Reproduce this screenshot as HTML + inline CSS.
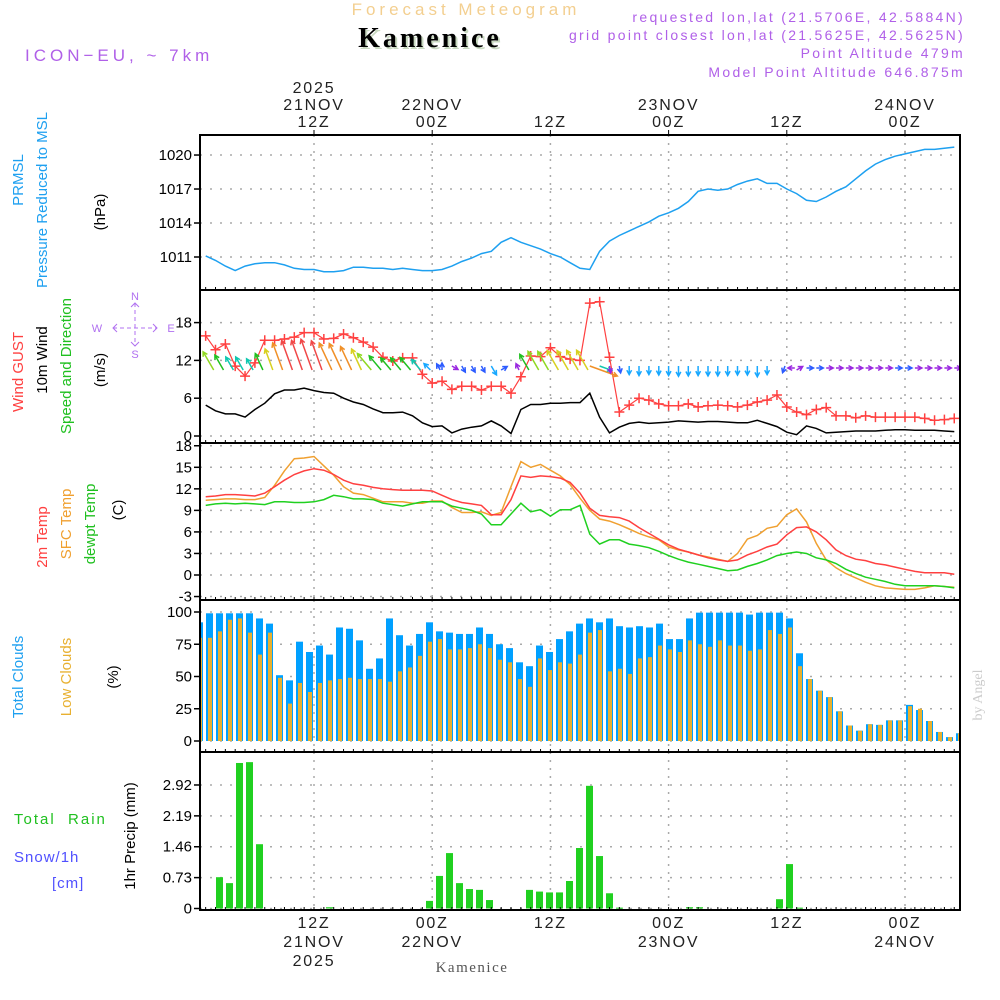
<!DOCTYPE html>
<html><head><meta charset="utf-8"><style>
body{margin:0;background:#fff;}
svg{display:block;font-family:"Liberation Sans",sans-serif;}
</style></head><body>
<svg id="chart" width="1000" height="1000" viewBox="0 0 1000 1000">
<g id="hdr">
<text x="466" y="15" text-anchor="middle" font-size="17" letter-spacing="4" fill="#f3cf90">Forecast Meteogram</text>
<text x="432" y="49" text-anchor="middle" font-family="Liberation Serif,serif" font-weight="bold" font-size="28" letter-spacing="3" fill="#c8d8c0">Kamenice</text>
<text x="430" y="47" text-anchor="middle" font-family="Liberation Serif,serif" font-weight="bold" font-size="28" letter-spacing="3" fill="#000">Kamenice</text>
<text x="25" y="61" font-size="17" letter-spacing="4" fill="#b060e8">ICON−EU, ~ 7km</text>
<g font-size="14" letter-spacing="2.3" fill="#b060e8" text-anchor="end">
<text x="965" y="22">requested lon,lat (21.5706E, 42.5884N)</text>
<text x="965" y="40">grid point closest lon,lat (21.5625E, 42.5625N)</text>
<text x="965" y="58">Point Altitude 479m</text>
<text x="965" y="77">Model Point Altitude 646.875m</text>
</g>
<text x="472" y="972" text-anchor="middle" font-family="Liberation Serif,serif" font-size="15" letter-spacing="1.5" fill="#555">Kamenice</text>
<text transform="translate(982,695) rotate(-90)" text-anchor="middle" font-family="Liberation Serif,serif" font-size="14" fill="#ccc">by Angel</text>
</g>
<g id="leftlabels" font-size="15">
<text transform="translate(23,180) rotate(-90)" text-anchor="middle" fill="#1ea0f0">PRMSL</text>
<text transform="translate(47,200) rotate(-90)" text-anchor="middle" fill="#1ea0f0">Pressure Reduced to MSL</text>
<text transform="translate(105,212) rotate(-90)" text-anchor="middle" fill="#000">(hPa)</text>
<text transform="translate(23,372) rotate(-90)" text-anchor="middle" fill="#ff4040">Wind GUST</text>
<text transform="translate(47,360) rotate(-90)" text-anchor="middle" fill="#000">10m Wind</text>
<text transform="translate(71,366) rotate(-90)" text-anchor="middle" fill="#20c020">Speed and Direction</text>
<text transform="translate(105,370) rotate(-90)" text-anchor="middle" fill="#000">(m/s)</text>
<text transform="translate(47,537) rotate(-90)" text-anchor="middle" fill="#ff4040">2m Temp</text>
<text transform="translate(71,524) rotate(-90)" text-anchor="middle" fill="#f0a030">SFC Temp</text>
<text transform="translate(95,524) rotate(-90)" text-anchor="middle" fill="#20c020">dewpt Temp</text>
<text transform="translate(123,510) rotate(-90)" text-anchor="middle" fill="#000">(C)</text>
<text transform="translate(23,677) rotate(-90)" text-anchor="middle" fill="#1ea0f0">Total Clouds</text>
<text transform="translate(71,677) rotate(-90)" text-anchor="middle" fill="#e8b030">Low Clouds</text>
<text transform="translate(118,677) rotate(-90)" text-anchor="middle" fill="#000">(%)</text>
<text x="14" y="824" fill="#20c020" letter-spacing="2" xml:space="preserve">Total  Rain</text>
<text x="14" y="862" fill="#5050ff" letter-spacing="1">Snow/1h</text>
<text x="52" y="888" fill="#5050ff" letter-spacing="1">[cm]</text>
<text transform="translate(135,836) rotate(-90)" text-anchor="middle" fill="#000">1hr Precip (mm)</text>
</g>
<g id="compass" fill="#b070f0" stroke="#b070f0" font-size="11">
<text x="135" y="300" text-anchor="middle" stroke="none">N</text>
<text x="97" y="332" text-anchor="middle" stroke="none">W</text>
<text x="171" y="332" text-anchor="middle" stroke="none">E</text>
<text x="135" y="358" text-anchor="middle" stroke="none">S</text>
<line x1="135" y1="303" x2="135" y2="346" stroke-dasharray="4,3"/>
<line x1="113" y1="328" x2="157" y2="328" stroke-dasharray="4,3"/>
<path d="M117 324 L113 328 L117 332 M153 324 L157 328 L153 332 M131 307 L135 303 L139 307 M131 342 L135 346 L139 342" fill="none"/>
</g>
<g id="grid"></g>
<g id="marks"></g>
<g id="frames"></g>
<g id="axes"></g>
</svg>
<script>
// ---- data (hourly, h = 1..77) ----
const pressure = [1011.1,1010.7,1010.2,1009.8,1010.2,1010.4,1010.5,1010.5,1010.3,1010.0,1009.9,1009.9,1009.7,1009.7,1009.8,1010.1,1010.1,1010.0,1010.0,1009.9,1010.0,1009.9,1009.8,1009.8,1009.9,1010.2,1010.6,1010.9,1011.3,1011.5,1012.3,1012.7,1012.3,1012.0,1011.7,1011.3,1011.0,1010.5,1010.0,1009.9,1011.5,1012.4,1012.9,1013.3,1013.7,1014.1,1014.6,1014.9,1015.3,1015.9,1016.8,1017.0,1016.9,1017.0,1017.4,1017.7,1017.9,1017.5,1017.5,1017.0,1016.6,1016.0,1015.9,1016.3,1016.8,1017.2,1017.9,1018.6,1019.2,1019.6,1019.9,1020.1,1020.3,1020.5,1020.5,1020.6,1020.7];
const gust = [15.9,13.7,14.6,11.1,9.5,11.6,15.2,15.2,15.4,15.7,16.4,16.4,15.4,15.5,16.2,15.6,14.9,14.1,12.5,11.9,12.4,12.4,9.8,8.4,8.7,7.4,7.9,7.9,7.3,7.9,7.9,6.8,9.4,12.7,12.6,14.0,12.6,12.2,12.0,21.1,21.3,12.5,3.8,4.9,6.0,5.7,5.1,4.8,4.8,5.1,4.6,4.8,4.9,4.8,4.6,4.9,5.4,5.7,6.5,4.6,3.8,3.4,4.2,4.5,3.2,3.2,2.9,3.2,3.0,3.0,3.0,3.0,3.0,2.8,2.5,2.6,2.8];
const wind = [4.9,4.0,3.5,3.5,3.0,4.2,5.2,6.7,7.3,7.3,7.6,7.2,6.9,6.8,6.0,5.4,5.0,4.3,3.7,3.7,3.8,3.2,2.1,1.5,1.6,0.5,1.1,1.4,1.6,2.4,1.6,0.4,4.2,5.0,5.0,5.2,5.2,5.3,5.3,6.8,3.0,0.5,1.4,2.0,2.2,2.0,2.1,2.2,2.4,2.3,2.2,2.3,2.3,2.2,2.1,2.1,2.5,2.0,1.5,0.6,0.2,1.6,1.2,0.5,0.6,0.7,0.8,0.8,0.8,0.9,1.0,1.0,0.9,0.9,0.9,0.8,0.7];
const windDir = [330,330,330,330,330,335,340,340,340,340,340,340,335,335,335,335,320,320,320,320,320,320,315,330,0,120,150,150,150,150,60,335,330,330,330,330,330,330,330,110,110,170,170,180,180,180,180,180,180,180,180,180,180,180,180,180,180,180,200,270,60,90,90,90,90,90,90,90,90,90,90,90,90,90,90,90,90];
const temp2m = [10.9,11.0,11.2,11.2,11.1,11.0,11.4,12.3,13.2,14.0,14.5,14.8,14.6,14.0,13.2,12.7,12.5,12.2,12.0,11.9,11.8,11.8,11.8,11.7,11.1,10.5,10.1,9.9,9.7,8.4,8.4,10.5,13.8,13.6,13.8,13.7,13.5,12.9,11.4,9.3,8.3,8.1,8.0,7.5,6.6,5.8,5.0,4.2,3.6,3.2,2.8,2.4,2.1,1.9,2.1,2.8,3.3,3.9,4.3,5.6,6.6,6.7,6.0,4.9,3.5,2.7,2.2,2.0,1.6,1.4,1.1,0.8,0.5,0.3,0.3,0.3,0.1];
const tempSfc = [10.4,10.5,10.6,10.6,10.5,10.5,10.8,12.5,14.5,16.2,16.3,16.5,15.2,13.9,12.3,11.4,11.2,10.7,10.2,10.2,10.2,10.0,10.0,10.3,10.3,9.4,8.7,8.7,8.8,8.3,8.7,12.3,15.8,15.0,15.4,14.6,13.8,12.6,10.7,9.0,7.8,7.5,7.0,6.4,5.8,5.3,4.9,3.9,3.5,3.2,2.8,2.5,2.2,1.9,3.0,5.0,5.5,6.5,6.8,8.4,9.2,7.4,4.4,2.1,1.0,0.2,-0.4,-1.0,-1.5,-1.8,-1.9,-2.0,-2.0,-1.8,-1.5,-1.6,-1.7];
const dewpt = [9.7,9.9,10.0,9.9,10.0,9.9,9.8,10.2,10.2,10.1,10.1,10.2,10.5,11.1,10.9,10.6,10.6,10.5,10.0,9.8,9.6,9.9,10.2,10.2,10.2,9.6,9.3,9.0,8.5,7.0,7.0,8.5,10.0,8.8,9.1,8.2,9.1,9.1,9.7,5.7,4.3,4.9,4.9,4.3,4.1,3.8,3.3,2.7,2.2,1.8,1.5,1.2,0.9,0.6,0.7,1.2,1.6,2.1,2.7,3.0,3.2,3.0,2.4,2.1,1.6,0.8,0.2,-0.3,-0.6,-0.9,-1.3,-1.5,-1.5,-1.5,-1.5,-1.6,-1.8];
// bars (i = 0..76)
const totalClouds = [92,99,99,99,99,99,95,91,51,47,77,69,74,67,88,87,78,56,64,95,82,74,83,92,85,84,83,83,88,83,75,72,61,58,74,69,79,85,91,95,92,95,89,88,89,88,91,79,79,95,99.5,99.5,99.5,99.5,99.5,98,99.5,99.5,99.5,95,68,48,39,34,23,12,8,13,12.5,16,16,28,24,15.5,7,3,6];
const lowClouds = [80,80,85,94,95,84,67,84,49,29,45,38,45,47,48,49,48,48,48,46,54,57,66,77,79,71,71,72,75,72,63,61,48,42,64,55,61,60,67,84,86,54,56,52,64,65,74,71,69,78,75,73,78,74,74,70,71,86,83,88,58,48,39,34,23,12,8,13,12.5,16,16,27,25,15.5,7,3,6];
const precip = [0,0,0.74,0.60,3.44,3.46,1.52,0,0,0,0,0,0,0.03,0,0,0,0,0,0,0,0,0,0.18,0.77,1.31,0.60,0.46,0.44,0.20,0,0,0,0.44,0.40,0.38,0.38,0.65,1.43,2.90,1.24,0.36,0.02,0,0,0,0,0,0,0.03,0.03,0,0,0,0,0,0,0,0.22,1.05,0.02,0,0,0,0,0,0,0,0,0,0,0,0,0,0,0,0];
const timeTicks = [12,24,36,48,60,72];
const topLabels = [["2025","21NOV","12Z"],["22NOV","00Z"],["12Z"],["23NOV","00Z"],["12Z"],["24NOV","00Z"]];
const botLabels = [["12Z","21NOV","2025"],["00Z","22NOV"],["12Z"],["00Z","23NOV"],["12Z"],["00Z","24NOV"]];
const pTicks = [1011,1014,1017,1020];
const wTicks = [0,6,12,18];
const tTicks = [-3,0,3,6,9,12,15,18];
const cTicks = [0,25,50,75,100];
const rTicks = [0,0.73,1.46,2.19,2.92];

// ---- scales ----
const X0=200, X1=960;
const xh = h => 314 + (h-12)*9.85;
const xb = i => 196 + 10*i;
const P = {top:135,bot:290}, W={top:290,bot:443}, T={top:443,bot:600}, C={top:600,bot:752}, R={top:752,bot:910};
const yP = v => 257 - (v-1011)*11.33;
const yW = v => 436 - v*6.3;
const yT = v => 575 - v*7.18;
const yC = v => 741 - v*1.29;
const yR = v => 908.5 - v*42.3;

const NS='http://www.w3.org/2000/svg';
function mk(tag, attrs, parent){const e=document.createElementNS(NS,tag);for(const k in attrs)e.setAttribute(k,attrs[k]);parent.appendChild(e);return e;}
const gGrid=document.getElementById('grid'), gMarks=document.getElementById('marks'), gFr=document.getElementById('frames'), gAx=document.getElementById('axes');

const panels=[[P,pTicks,yP,'pressure'],[W,wTicks,yW,'wind'],[T,tTicks,yT,'temp'],[C,cTicks,yC,'clouds'],[R,rTicks,yR,'precip']];
panels.forEach(([pn,ticks,ys,nm])=>{
  timeTicks.forEach(h=>{
    const l=mk('line',{x1:xh(h),x2:xh(h),y1:pn.top,y2:pn.bot,stroke:'#aaa','stroke-dasharray':'2,6','stroke-width':1.5},gGrid);
    
    
  });
  ticks.forEach(v=>{
    const y=ys(v);
    const l=mk('line',{x1:X0,x2:X1,y1:y,y2:y,stroke:'#aaa','stroke-dasharray':'2,8','stroke-width':1.5},gGrid);
    
    
    const tk=mk('line',{x1:X0-6,x2:X0,y1:y,y2:y,stroke:'#000','stroke-width':1.5},gAx);
    
    
    const t=mk('text',{x:X0-8,y:y+5,'text-anchor':'end','font-size':15,fill:'#000'},gAx);
    t.textContent=(nm==='precip')?(v===0?'0':v.toFixed(2)):String(v);
    
    
  });
  const fr=mk('rect',{x:X0,y:pn.top,width:X1-X0,height:pn.bot-pn.top,fill:'none',stroke:'#000','stroke-width':2},gFr);
  
  
  for(let h=0;h<=78;h++){const x=xh(h); if(x<X0||x>X1)continue;
    const m=mk('line',{x1:x,x2:x,y1:pn.bot-3,y2:pn.bot,stroke:'#000','stroke-width':1},gAx);
    
    }
});
timeTicks.forEach((h,k)=>{
  const x=xh(h);
  const tl=topLabels[k];
  tl.forEach((s,j)=>{const t=mk('text',{x:x,y:127-(tl.length-1-j)*17,'text-anchor':'middle','font-size':16,fill:'#222','letter-spacing':1.8},gAx);t.textContent=s;
    
    });
  const tt=mk('line',{x1:x,x2:x,y1:P.top-5,y2:P.top,stroke:'#000'},gAx);
  
  
  botLabels[k].forEach((s,j)=>{const t=mk('text',{x:x,y:928+j*19,'text-anchor':'middle','font-size':16,fill:'#222','letter-spacing':1.8},gAx);t.textContent=s;
    
    });
});

const clip=mk('clipPath',{id:'plotclip'},gMarks); mk('rect',{x:X0,y:P.top,width:X1-X0,height:R.bot-P.top},clip);
const g=mk('g',{'clip-path':'url(#plotclip)'},gMarks);
function poly(arr,ys,color,name,w){
  const pts=arr.map((v,k)=>xh(k+1).toFixed(1)+','+ys(v).toFixed(1)).join(' ');
  const p=mk('polyline',{points:pts,fill:'none',stroke:color,'stroke-width':w||1.5},g);
  
  
}
poly(pressure,yP,'#1ea0f0','pressure-line');
poly(wind,yW,'#000','wind10m-line');
poly(gust,yW,'#ff4040','gust-line',1.2);
gust.forEach((v,k)=>{const x=xh(k+1),y=yW(v);
  const m=mk('path',{d:`M${x-5} ${y}H${x+5}M${x} ${y-5}V${y+5}`,stroke:'#ff4040','stroke-width':1.5},g);
  
  });
function spdColor(s){
  if(s<1.0)return '#9a28e0'; if(s<1.8)return '#2d5cff'; if(s<2.7)return '#18a8ff';
  if(s<3.6)return '#10c8b0'; if(s<4.6)return '#20c020'; if(s<5.1)return '#90d820';
  if(s<5.6)return '#d8d020'; if(s<7.0)return '#f09028'; return '#f04848';
}
wind.forEach((s,k)=>{
  const a=windDir[k]*Math.PI/180, L=Math.max(7,s*4.3);
  const x0=xh(k+1)+(Math.sin(a)<0?8:0), y0=Math.cos(a)>0.3?370:(Math.cos(a)<-0.3?366:368);
  const x1=x0+Math.sin(a)*L, y1=y0-Math.cos(a)*L;
  const ha=0.5, hl=5;
  const c=spdColor(s);
  const d=`M${x0.toFixed(1)} ${y0.toFixed(1)}L${x1.toFixed(1)} ${y1.toFixed(1)}M${(x1-Math.sin(a-ha)*hl).toFixed(1)} ${(y1+Math.cos(a-ha)*hl).toFixed(1)}L${x1.toFixed(1)} ${y1.toFixed(1)}L${(x1-Math.sin(a+ha)*hl).toFixed(1)} ${(y1+Math.cos(a+ha)*hl).toFixed(1)}`;
  const p=mk('path',{d:d,stroke:c,'stroke-width':1.5,fill:'none'},g);
  
  
});
poly(tempSfc,yT,'#f0a030','sfc-temp-line');
poly(temp2m,yT,'#ff4040','temp2m-line');
poly(dewpt,yT,'#20d020','dewpt-line');
totalClouds.forEach((v,i)=>{
  const x=xb(i);
  const b=mk('rect',{x:x,y:yC(v),width:7,height:741-yC(v),fill:'#00a0ff'},g);
  
  
  const lv=lowClouds[i];
  const o=mk('rect',{x:x+2,y:yC(lv),width:4,height:741-yC(lv),fill:'#e8b030'},g);
  
  
});
precip.forEach((v,i)=>{
  if(v<=0)return;
  const x=xb(i);
  const b=mk('rect',{x:x,y:yR(v),width:7,height:Math.max(1,908.5-yR(v)),fill:'#20d020'},g);
  
  
});
</script>
</body></html>
